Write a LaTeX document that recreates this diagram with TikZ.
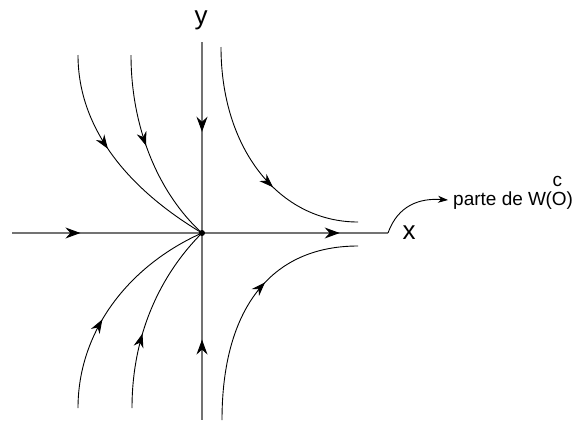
\documentclass[tikz,border=0pt]{standalone}
\usepackage{fontspec}
\setmainfont{Liberation Sans}
\usetikzlibrary{arrows.meta,decorations.markings}
\tikzset{
  axisline/.style={draw=black!55, line width=1.3pt},
  flow/.style={draw=black, line width=0.9pt},
  midarrow/.style={postaction={decorate},decoration={markings,
     mark=at position #1 with {\arrow[black,line width=0.9pt]{Stealth[length=14pt,width=10pt,inset=4.5pt]}}}},
  axisarrow/.style={postaction={decorate},decoration={markings,
     mark=at position #1 with {\arrow[black,line width=0.9pt]{Stealth[length=15pt,width=11pt,inset=5pt]}}}},
  biglabel/.style={font=\fontsize{26}{26}\selectfont, inner sep=0pt},
  smalllabel/.style={font=\fontsize{19}{19}\selectfont, inner sep=0pt},
}
\begin{document}
\begin{tikzpicture}[x=1pt,y=-1pt]
\useasboundingbox (0,0) rectangle (578,421);
\coordinate (O) at (202,233);
\coordinate (xl) at (12,233);
\coordinate (xr) at (388,233);
\coordinate (yt) at (202,42);
\coordinate (yb) at (202,420);
\coordinate (a1) at (78,55);
\coordinate (a2) at (131,55);
\coordinate (a3) at (78,408);
\coordinate (a4) at (132,408);
\coordinate (b1) at (221,47);
\coordinate (b1e) at (358,222);
\coordinate (b2) at (222,420);
\coordinate (b2e) at (358,246);
\coordinate (pe) at (448,200);

% axes
\draw[axisline] (yt) -- (yb);
\draw[axisline] (xl) -- (xr);
\path[axisarrow=0.47] (yt) -- (O);
\path[axisarrow=0.43] (yb) -- (O);
\path[axisarrow=0.36] (xl) -- (O);
\path[axisarrow=0.74] (O) -- (xr);

% trajectories to the origin
\draw[flow, midarrow=0.44] (a1) .. controls (78,130) and (130,190) .. (O);
\draw[flow, midarrow=0.47] (a2) .. controls (131,130) and (160,195) .. (O);
\draw[flow, midarrow=0.41] (a3) .. controls (78,330) and (130,265) .. (O);
\draw[flow, midarrow=0.39] (a4) .. controls (132,335) and (160,275) .. (O);

% right-hand trajectories
\draw[flow, midarrow=0.62] (b1) .. controls (221,150) and (280,222) .. (b1e);
\draw[flow, midarrow=0.59] (b2) .. controls (222,310) and (270,246) .. (b2e);

\fill (O) circle (3pt);

% labels
\node[biglabel] (ylab) at (201,20) {y};
\node[biglabel] (xlab) at (409,233) {x};
\draw[flow, -{Stealth[length=10pt,width=7pt,inset=3pt]}] (xr) .. controls (398,205) and (420,198) .. (pe);
\node[smalllabel, anchor=base west] (txt) at (453,205) {parte de W};
\node[smalllabel, anchor=base west] (sup) at (txt.base east) [xshift=6pt, yshift=19pt] {c};
\node[smalllabel, anchor=base west] (par) at (txt.base east) [xshift=-1pt] {(O)};
\end{tikzpicture}
\end{document}
